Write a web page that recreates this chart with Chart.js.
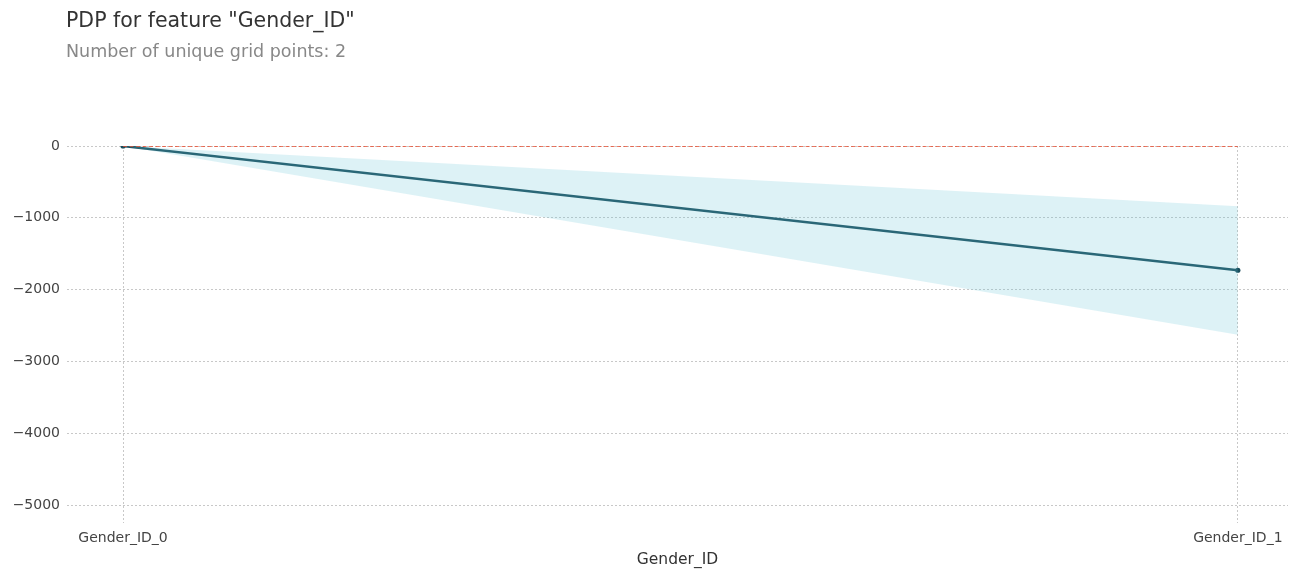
<!DOCTYPE html>
<html lang="en">
<head>
  <meta charset="UTF-8">
  <title>PDP for feature "Gender_ID"</title>
  <script src="https://cdn.jsdelivr.net/npm/chart.js"></script>
  <style>
    html, body { margin: 0; padding: 0; background: #fff; }
    #wrap { position: relative; width: 1292px; height: 569px; }
  </style>
</head>
<body>
  <div id="wrap"><canvas id="pdpChart" width="1292" height="569"></canvas></div>

  <script>
    // data
    const gridPositions = [0, 1];
    const gridLabels = ['Gender_ID_0', 'Gender_ID_1'];
    const pdpValues = [0, -1730];
    const upperValues = [0, -840];
    const lowerValues = [0, -2630];
    const zeroValues = [0, 0];
    const yTickValues = [0, -1000, -2000, -3000, -4000, -5000];

    const titleText = 'PDP for feature "Gender_ID"';
    const subtitleText = 'Number of unique grid points: 2';
    const xTitle = 'Gender_ID';

    const pts = (ys) => gridPositions.map((x, i) => ({ x: x, y: ys[i] }));
    const font = "'DejaVu Sans', sans-serif";

    // title block drawn at the top left, like the matplotlib figure text
    const headerPlugin = {
      id: 'header',
      afterDraw(chart) {
        const c = chart.ctx;
        c.save();
        c.textBaseline = 'alphabetic';
        c.textAlign = 'left';
        c.fillStyle = '#333333';
        c.font = "20.5px " + font;
        c.fillText(titleText, 66, 27);
        c.fillStyle = '#888888';
        c.font = "17.5px " + font;
        c.fillText(subtitleText, 66, 57);
        c.restore();
      }
    };

    new Chart(document.getElementById('pdpChart'), {
      type: 'line',
      data: {
        datasets: [
          { label: 'upper', data: pts(upperValues), borderWidth: 0, pointRadius: 0,
            borderColor: 'rgba(102,194,215,0.2)', backgroundColor: 'rgba(102,194,215,0.22)', fill: false },
          { label: 'lower', data: pts(lowerValues), borderWidth: 0, pointRadius: 0,
            borderColor: 'rgba(102,194,215,0.2)', backgroundColor: 'rgba(102,194,215,0.22)', fill: '-1' },
          { label: 'zero', data: pts(zeroValues), borderColor: '#E6492D', borderWidth: 1.6,
            borderDash: [4, 2.5], pointRadius: 0, fill: false },
          { label: 'pdp', data: pts(pdpValues), borderColor: '#1A4E5D', borderWidth: 2.4,
            pointRadius: 2.6, pointBackgroundColor: '#1A4E5D', pointBorderWidth: 0, fill: false }
        ]
      },
      options: {
        responsive: false,
        animation: false,
        layout: { padding: { top: 146, right: 0, left: 0, bottom: 0 } },
        plugins: { legend: { display: false }, tooltip: { enabled: false }, title: { display: false } },
        scales: {
          x: {
            type: 'linear',
            min: -0.0503,
            max: 1.045,
            afterBuildTicks: (s) => { s.ticks = gridPositions.map(v => ({ value: v })); },
            afterFit: (s) => { s.height = 46; },
            border: { display: false, dash: [2, 2] },
            grid: { color: '#c8c8c8', lineWidth: 1, drawTicks: false },
            ticks: {
              padding: 7,
              color: '#444444',
              font: { family: font, size: 14 },
              maxRotation: 0,
              callback: (v) => gridLabels[gridPositions.indexOf(v)] || ''
            },
            title: { display: true, text: xTitle, color: '#333333', padding: { top: 3, bottom: 0 },
              font: { family: font, size: 15.5 } }
          },
          y: {
            type: 'linear',
            min: -5250,
            max: 0,
            afterBuildTicks: (s) => { s.ticks = yTickValues.map(v => ({ value: v })); },
            afterFit: (s) => { s.width = 67; },
            border: { display: false, dash: [2, 2] },
            grid: { color: '#c8c8c8', lineWidth: 1, drawTicks: false },
            ticks: {
              padding: 7,
              color: '#444444',
              font: { family: font, size: 14 },
              callback: (v) => v < 0 ? '\u2212' + Math.abs(v) : String(v)
            }
          }
        }
      },
      plugins: [headerPlugin]
    });
  </script>
</body>
</html>
